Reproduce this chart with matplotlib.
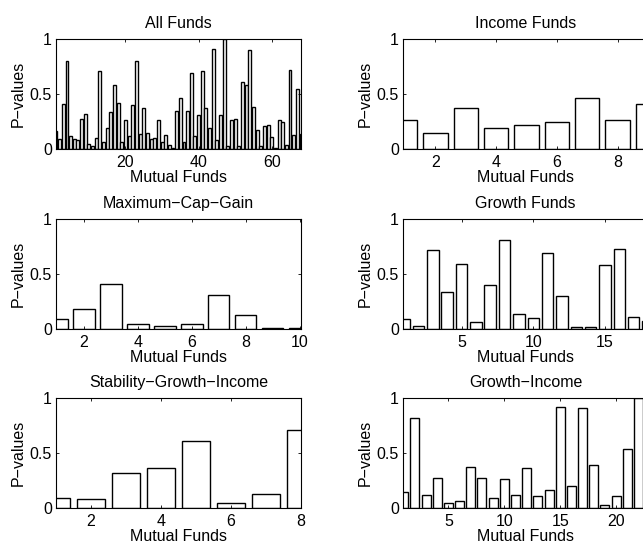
import matplotlib.pyplot as plt

plt.rcParams['font.family'] = ['Liberation Sans', 'DejaVu Sans']
plt.rcParams['font.size'] = 11

all_funds = [0.16, 0.09, 0.41, 0.80, 0.12, 0.09, 0.08, 0.27, 0.32, 0.05,
             0.03, 0.10, 0.71, 0.06, 0.19, 0.34, 0.58, 0.42, 0.06, 0.26,
             0.12, 0.40, 0.80, 0.14, 0.37, 0.15, 0.09, 0.10, 0.26, 0.06,
             0.13, 0.04, 0.01, 0.35, 0.46, 0.06, 0.35, 0.69, 0.12, 0.31,
             0.71, 0.37, 0.19, 0.91, 0.08, 0.31, 1.00, 0.03, 0.26, 0.27,
             0.03, 0.61, 0.58, 0.90, 0.38, 0.17, 0.03, 0.21, 0.22, 0.11,
             0.01, 0.26, 0.25, 0.04, 0.72, 0.13, 0.55, 0.14]
income = [0.26, 0.15, 0.37, 0.19, 0.22, 0.25, 0.46, 0.265, 0.41]
max_cap_gain = [0.09, 0.18, 0.41, 0.05, 0.025, 0.05, 0.31, 0.13, 0.01, 0.01]
growth = [0.09, 0.03, 0.72, 0.34, 0.59, 0.06, 0.40, 0.81, 0.14, 0.10,
          0.69, 0.30, 0.02, 0.02, 0.58, 0.73, 0.11, 0.07]
stab_growth_income = [0.09, 0.08, 0.32, 0.36, 0.61, 0.05, 0.125, 0.71]
growth_income = [0.15, 0.82, 0.12, 0.27, 0.05, 0.06, 0.37, 0.27, 0.09, 0.26,
                 0.12, 0.36, 0.11, 0.16, 0.92, 0.20, 0.91, 0.39, 0.03, 0.11,
                 0.54, 1.00]

panels = [
    ('All Funds', all_funds, [20, 40, 60], (1, 68)),
    ('Income Funds', income, [2, 4, 6, 8], (0.93, 9.0)),
    ('Maximum\u2212Cap\u2212Gain', max_cap_gain, [2, 4, 6, 8, 10], (0.97, 10.05)),
    ('Growth Funds', growth, [5, 10, 15], (0.92, 18.0)),
    ('Stability\u2212Growth\u2212Income', stab_growth_income, [2, 4, 6, 8], (1, 8)),
    ('Growth\u2212Income', growth_income, [5, 10, 15, 20], (0.94, 22.85)),
]

W, H = 643, 544
fig = plt.figure(figsize=(W / 100, H / 100), dpi=100)

lefts = [56, 403]
tops = [39, 219, 398]
aw, ah = 245, 110

for i, (title, vals, xt, xl) in enumerate(panels):
    row, col = i // 2, i % 2
    ax = fig.add_axes([lefts[col] / W, 1 - (tops[row] + ah) / H, aw / W, ah / H])
    x = list(range(1, len(vals) + 1))
    ax.bar(x, vals, width=0.8, color='white', edgecolor='black', linewidth=1.0)
    ax.set_xlim(*xl)
    ax.set_ylim(0, 1)
    ax.set_xticks(xt)
    ax.set_yticks([0, 0.5, 1])
    ax.set_yticklabels(['0', '0.5', '1'])
    ax.tick_params(direction='in', length=2.5, top=True, right=True, width=0.6,
                   labelsize=11.5, pad=3)
    ax.tick_params(axis='x', pad=4)
    for s in ax.spines.values():
        s.set_linewidth(0.8)
    ax.set_title(title, fontsize=11.5, pad=8)
    ax.set_xlabel('Mutual Funds', fontsize=11.5, labelpad=0)
    ax.set_ylabel('P\u2212values', fontsize=11.5, labelpad=3)

fig.savefig('out.png', dpi=100)
